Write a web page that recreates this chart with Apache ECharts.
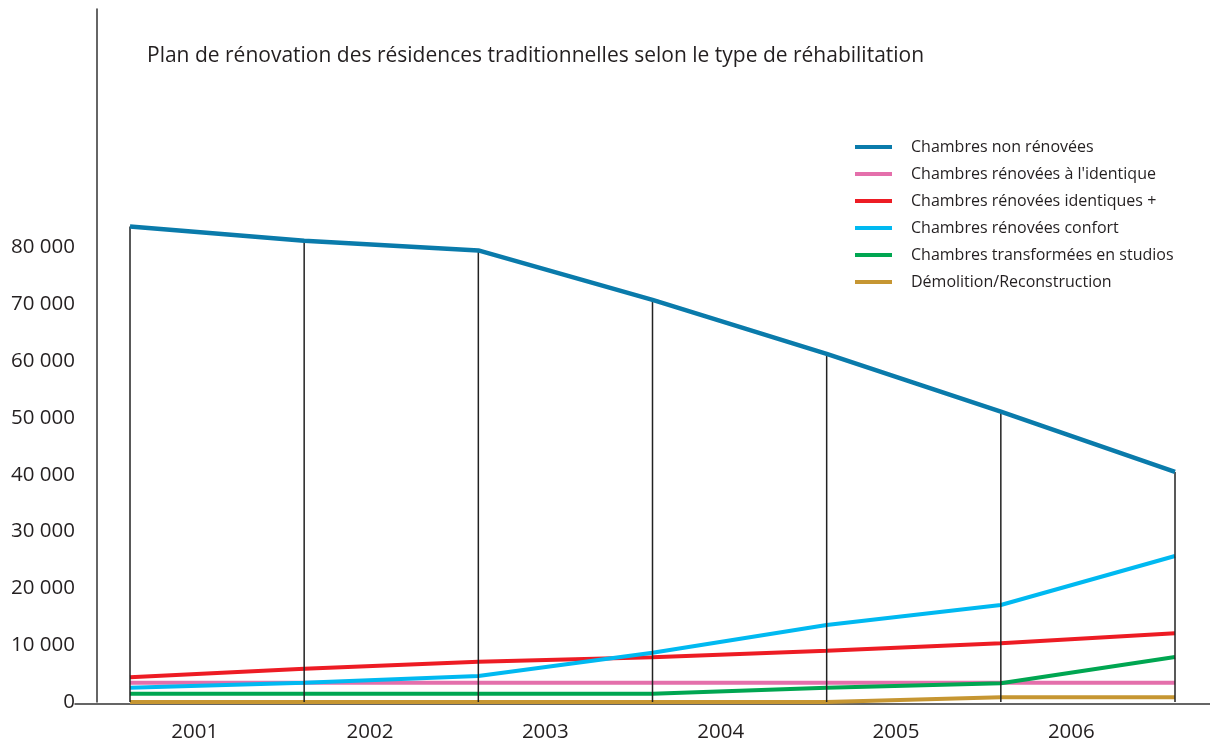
<!DOCTYPE html>
<html>
<head>
<meta charset="utf-8">
<script src="https://cdn.jsdelivr.net/npm/echarts@6/dist/echarts.min.js"></script>
<style>
html,body{margin:0;padding:0;background:#fff;}
#chart{width:1210px;height:746px;}
</style>
</head>
<body>
<div id="chart"></div>
<script>
// ---- data ----
const yearLabels = ['2001', '2002', '2003', '2004', '2005', '2006'];
const pointSlots = ['p0', 'p1', 'p2', 'p3', 'p4', 'p5', 'p6'];
const nonRenovees = [83700, 81200, 79500, 70800, 61300, 51100, 40500];
const renoveesIdentique = [3400, 3400, 3400, 3400, 3400, 3400, 3400];
const renoveesIdentiquesPlus = [4350, 5860, 7100, 7870, 9030, 10330, 12090];
const renoveesConfort = [2520, 3400, 4580, 8680, 13560, 17080, 25700];
const transformeesStudios = [1460, 1460, 1460, 1460, 2520, 3290, 7920];
const demolitionReconstruction = [0, 0, 0, 0, 0, 830, 830];
const seriesNames = [
  'Chambres non rénovées',
  'Chambres rénovées à l\'identique',
  'Chambres rénovées identiques +',
  'Chambres rénovées confort',
  'Chambres transformées en studios',
  'Démolition/Reconstruction'
];
const yTickMax = 80000;

// ---- chart ----
const FONT = '"Open Sans", "Noto Sans", sans-serif';
const TXT = '#231f20';
const colors = ['#0a7bab', '#e46fab', '#ed1c24', '#00b9f1', '#00a651', '#c69632'];
const seriesData = [nonRenovees, renoveesIdentique, renoveesIdentiquesPlus,
  renoveesConfort, transformeesStudios, demolitionReconstruction];

const chart = echarts.init(document.getElementById('chart'));

function fmt(v) {
  if (v > yTickMax) return '';
  return String(v).replace(/\B(?=(\d{3})+(?!\d))/g, ' ');
}

const lineSeries = seriesNames.map((name, i) => ({
  name: name,
  type: 'line',
  xAxisIndex: 0,
  yAxisIndex: 0,
  data: seriesData[i],
  symbol: 'none',
  smooth: false,
  lineStyle: { color: colors[i], width: i === 0 ? 4.5 : 4, cap: 'butt' },
  itemStyle: { color: colors[i] },
  z: i === 0 ? 5 : 2,
  silent: true
}));

const option = {
  animation: false,
  backgroundColor: '#fff',
  color: colors,
  title: {
    text: 'Plan de rénovation des résidences traditionnelles selon le type de réhabilitation',
    left: 147,
    top: 46,
    padding: 0,
    textStyle: { fontFamily: FONT, fontSize: 21, fontWeight: 'normal', color: TXT }
  },
  legend: {
    data: seriesNames,
    orient: 'vertical',
    left: 850,
    top: 133,
    icon: 'rect',
    itemWidth: 37,
    itemHeight: 4,
    itemGap: 9,
    itemStyle: { borderWidth: 0 },
    textStyle: { fontFamily: FONT, fontSize: 16, color: TXT, lineHeight: 18, padding: [0, 0, 0, 14] },
    selectedMode: false
  },
  grid: [
    { left: 130, right: 35, top: 9, bottom: 44 },
    { left: 107, right: 51, top: 9, bottom: 44 },
    { left: 75, right: 0, top: 9, bottom: 42 }
  ],
  xAxis: [
    {
      type: 'category', gridIndex: 0, data: pointSlots, boundaryGap: false,
      axisLine: { show: false }, axisTick: { show: false }, axisLabel: { show: false },
      splitLine: { show: false }
    },
    {
      type: 'category', gridIndex: 1, data: yearLabels, boundaryGap: true,
      axisLine: { show: false }, axisTick: { show: false },
      axisLabel: { margin: 20, fontFamily: FONT, fontSize: 20.5, color: TXT },
      splitLine: { show: false }
    },
    {
      type: 'category', gridIndex: 2, data: [''], boundaryGap: false,
      axisLine: { show: true, lineStyle: { color: '#333', width: 1.5 } },
      axisTick: { show: false }, axisLabel: { show: false }, splitLine: { show: false }
    }
  ],
  yAxis: [
    {
      type: 'value', gridIndex: 0, min: 0, max: 122000, interval: 10000,
      offset: 33,
      axisLine: { show: true, lineStyle: { color: '#333', width: 1.5 } },
      axisTick: { show: false },
      splitLine: { show: false },
      axisLabel: { margin: 22, fontFamily: FONT, fontSize: 20.5, color: TXT, formatter: fmt }
    },
    { type: 'value', gridIndex: 1, min: 0, max: 122000, show: false, splitLine: { show: false } },
    { type: 'value', gridIndex: 2, min: 0, max: 1, show: false, splitLine: { show: false } }
  ],
  series: lineSeries.concat([
    {
      name: 'drop',
      type: 'bar',
      xAxisIndex: 0,
      yAxisIndex: 0,
      data: nonRenovees,
      barWidth: 1.5,
      clip: false,
      itemStyle: { color: '#222' },
      z: 3,
      silent: true
    }
  ])
};

chart.setOption(option);
</script>
</body>
</html>
